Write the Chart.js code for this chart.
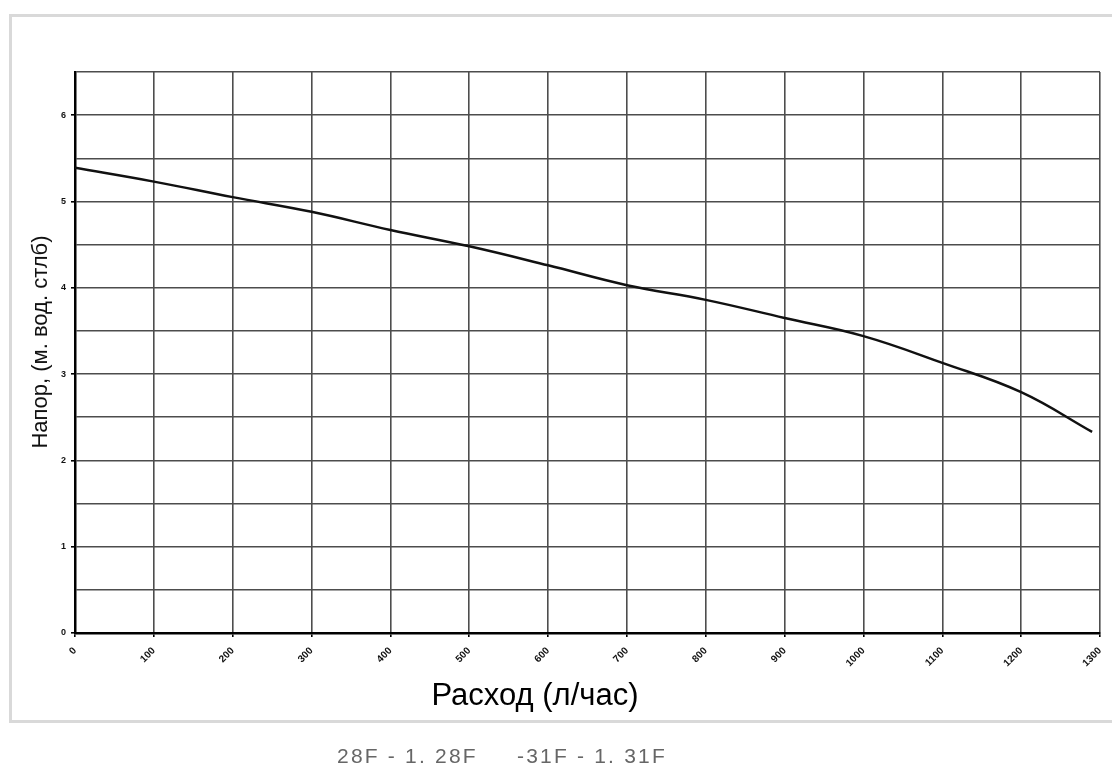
<!DOCTYPE html>
<html>
<head>
<meta charset="utf-8">
<script src="https://cdn.jsdelivr.net/npm/chart.js@4"></script>
<style>
  body { margin: 0; background: #fff; font-family: "Liberation Sans", Arial, sans-serif; }
  #frame {
    position: absolute; left: 9px; top: 14px;
    width: 1100px; height: 703px;
    border: 3px solid #d9d9d9;
  }
  #wrap { position: absolute; left: 0; top: 0; width: 1112px; height: 769px; }
  .cap {
    position: absolute; top: 744px;
    font-size: 21px; letter-spacing: 2.2px;
    color: #666; white-space: pre;
  }
  #xTitle {
    position: absolute; left: 0; top: 677px; width: 1070px;
    text-align: center; font-size: 31px; line-height: 36px; color: #000;
  }
  #yTitle {
    position: absolute; left: 40px; top: 342px; width: 300px;
    margin-left: -150px; margin-top: -13px;
    text-align: center; font-size: 22px; line-height: 26px; color: #111;
    transform: rotate(-90deg);
  }
</style>
</head>
<body>
<div id="frame"></div>
<div id="wrap"><canvas id="pumpChart" width="1112" height="769"></canvas></div>
<div id="xTitle"></div>
<div id="yTitle"></div>
<div class="cap" style="left:337px">28F - 1. 28F</div>
<div class="cap" style="left:517px">-31F - 1. 31F</div>

<script>
// flow (l/h) and head (m)
const flows = [0, 100, 200, 300, 400, 500, 600, 700, 800, 900, 1000, 1100, 1200, 1290];
const heads = [5.39, 5.23, 5.05, 4.88, 4.67, 4.48, 4.26, 4.03, 3.86, 3.65, 3.44, 3.13, 2.79, 2.33];

const xTitle = "Расход (л/час)";
const yTitle = "Напор, (м. вод. стлб)";

document.getElementById('xTitle').textContent = xTitle;
document.getElementById('yTitle').textContent = yTitle;

const tickFont = { family: "Liberation Sans, Arial", size: 10, weight: "bold" };

const ctx = document.getElementById('pumpChart').getContext('2d');

new Chart(ctx, {
  type: 'line',
  data: {
    datasets: [{
      data: flows.map((f, i) => ({ x: f, y: heads[i] })),
      borderColor: '#111',
      borderWidth: 2.5,
      pointRadius: 0,
      tension: 0.4,
      fill: false
    }]
  },
  options: {
    responsive: false,
    animation: false,
    layout: { padding: { top: 72, right: 12, left: 0, bottom: 0 } },
    plugins: { legend: { display: false }, tooltip: { enabled: false } },
    scales: {
      x: {
        type: 'linear',
        min: 0, max: 1300,
        ticks: {
          stepSize: 100,
          minRotation: 45, maxRotation: 45,
          color: '#111',
          font: tickFont,
          padding: 8,
          callback: v => String(v)
        },
        grid: { color: '#4d4d4d', lineWidth: 1.6, tickLength: 4, tickColor: '#000' },
        border: { color: '#000', width: 2.5 },
        afterFit: s => { s.height = 136; s.paddingLeft = 0; s.paddingRight = 0; }
      },
      y: {
        min: 0, max: 6.5,
        ticks: {
          stepSize: 0.5,
          color: '#111',
          font: { family: "Liberation Sans, Arial", size: 9, weight: "bold" },
          padding: 5,
          callback: v => Number.isInteger(v) ? v : ''
        },
        grid: {
          color: '#4d4d4d', lineWidth: 1.6, tickLength: 4,
          tickColor: c => Number.isInteger(c.tick.value) ? '#000' : 'rgba(0,0,0,0)'
        },
        border: { color: '#000', width: 2.5 },
        afterFit: s => { s.width = 75; s.paddingTop = 0; s.paddingBottom = 0; }
      }
    }
  }
});
</script>
</body>
</html>
